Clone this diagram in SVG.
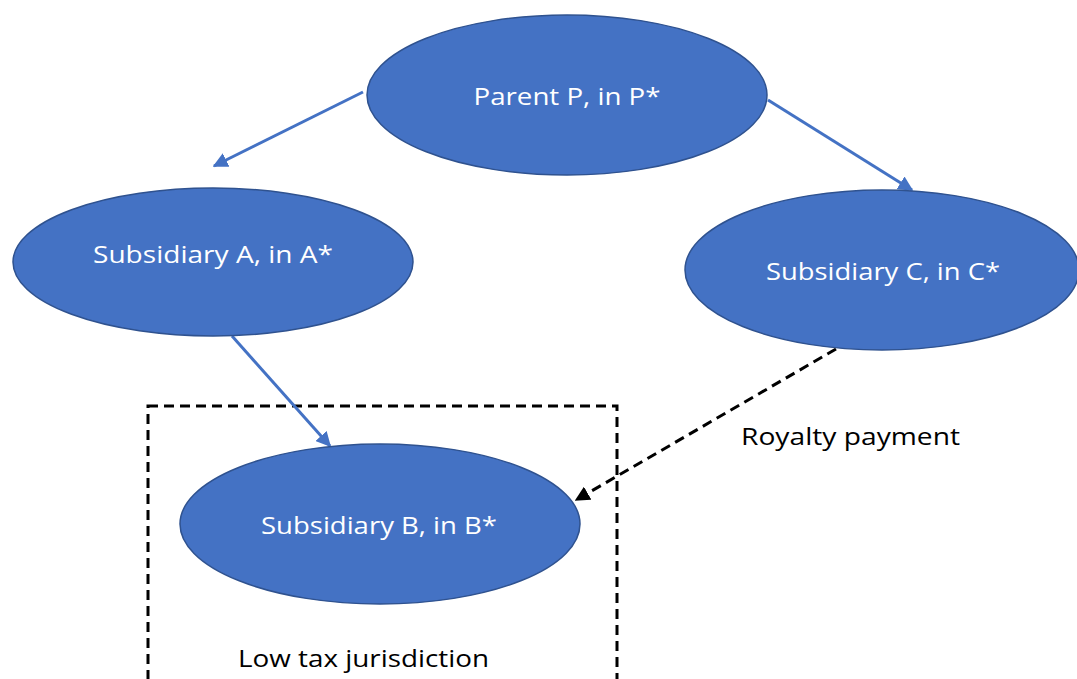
<svg xmlns="http://www.w3.org/2000/svg" width="1077" height="679" viewBox="0 0 1077 679">
<style>
.node{fill:#4472C4;stroke:#2F528F;stroke-width:1.5}
.lbl{font-family:"Open Sans","Liberation Sans",Arial,sans-serif;font-size:24px;fill:#fff;text-anchor:middle}
.txt{font-family:"Open Sans","Liberation Sans",Arial,sans-serif;font-size:24px;fill:#000}
.blue{stroke:#4472C4;stroke-width:3;fill:none;marker-end:url(#ab)}
.dash{stroke:#000;stroke-width:3;fill:none;stroke-dasharray:10 6}
</style>
<defs>
<marker id="ab" viewBox="0 0 10 10" refX="9" refY="5" markerWidth="5" markerHeight="5" orient="auto" markerUnits="strokeWidth">
<path d="M0,0L10,5L0,10z" fill="#4472C4"/>
</marker>
<marker id="ak" viewBox="0 0 10 10" refX="9" refY="5" markerWidth="5" markerHeight="5" orient="auto" markerUnits="strokeWidth">
<path d="M0,0L10,5L0,10z" fill="#000"/>
</marker>
</defs>
<rect x="148" y="406" width="469" height="300" class="dash"/>
<g id="connectors">
<line x1="363" y1="92" x2="214" y2="166" class="blue"/>
<line x1="768" y1="100" x2="912" y2="190" class="blue"/>
<line x1="232" y1="336" x2="330" y2="446" class="blue"/>
<line x1="836" y1="349" x2="576" y2="500" class="dash" marker-end="url(#ak)"/>
</g>
<g id="nodeP">
<ellipse cx="567" cy="95" rx="200" ry="80" class="node"/>
<text x="567" y="105" class="lbl" textLength="187" lengthAdjust="spacingAndGlyphs">Parent P, in P*</text>
</g>
<g id="nodeA">
<ellipse cx="213" cy="262" rx="200" ry="74" class="node"/>
<text x="213" y="263" class="lbl" textLength="240" lengthAdjust="spacingAndGlyphs">Subsidiary A, in A*</text>
</g>
<g id="nodeC">
<ellipse cx="882" cy="270" rx="197" ry="80" class="node"/>
<text x="883" y="280" class="lbl" textLength="234" lengthAdjust="spacingAndGlyphs">Subsidiary C, in C*</text>
</g>
<g id="nodeB">
<ellipse cx="380" cy="524" rx="200" ry="80" class="node"/>
<text x="379" y="534" class="lbl" textLength="236" lengthAdjust="spacingAndGlyphs">Subsidiary B, in B*</text>
</g>
<text x="741" y="445" class="txt" textLength="219" lengthAdjust="spacingAndGlyphs">Royalty payment</text>
<text x="238" y="667" class="txt" textLength="251" lengthAdjust="spacingAndGlyphs">Low tax jurisdiction</text>
</svg>
